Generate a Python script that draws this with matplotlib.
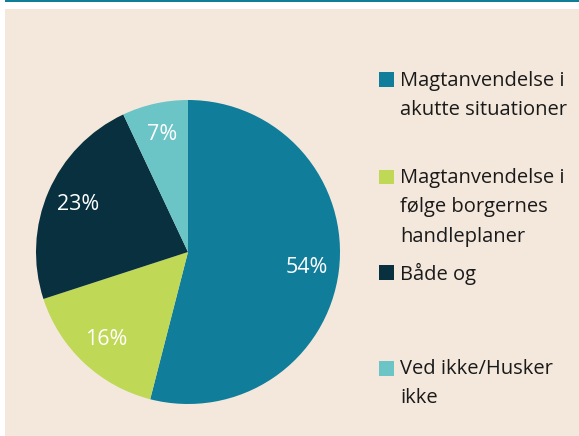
import matplotlib
matplotlib.use("Agg")
import matplotlib.pyplot as plt
from matplotlib.patches import Rectangle

# data
categories = ["Magtanvendelse i\nakutte situationer",
              "Magtanvendelse i\nfølge borgernes\nhandleplaner",
              "Både og",
              "Ved ikke/Husker\nikke"]
values = [54, 16, 23, 7]
colors = ["#107d9a", "#bfd856", "#08303f", "#6bc4c6"]

plt.rcParams['font.family'] = ['Open Sans', 'DejaVu Sans']

fig = plt.figure(figsize=(5.79, 4.36), dpi=100)
fig.patch.set_facecolor("white")

# beige panel + teal line on top
fig.patches.append(Rectangle((5 / 579, 0), 1, (436 - 9) / 436, transform=fig.transFigure,
                             facecolor="#f4e8dc", edgecolor="none", zorder=0))
fig.patches.append(Rectangle((5 / 579, 434 / 436), 1, 2 / 436, transform=fig.transFigure,
                             facecolor="#0e7f99", edgecolor="none", zorder=0))

ax = fig.add_axes([36 / 579, 32 / 436, 304 / 579, 304 / 436])
ax.set_zorder(3)
ax.set_facecolor("none")
wedges, texts, autotexts = ax.pie(values, colors=colors, startangle=90, counterclock=False,
                                  autopct=lambda p: f"{p:.0f}%", pctdistance=0.79,
                                  textprops=dict(color="white", fontsize=15.5))
ax.set_xlim(-1, 1)
ax.set_ylim(-1, 1)
ax.set_aspect("equal")
ax.axis("off")

# legend drawn by hand
legend_y = [80, 177, 272, 368]
for lab, col, y in zip(categories, colors, legend_y):
    fig.patches.append(Rectangle((379 / 579, 1 - (y + 7.5) / 436), 15 / 579, 15 / 436,
                                 transform=fig.transFigure, facecolor=col, edgecolor="none",
                                 zorder=2))
    fig.text(400 / 579, 1 - (y - 9) / 436, lab, fontsize=14.5, color="#1a1a1a",
             va="top", ha="left", linespacing=1.62)

fig.savefig("out.png", dpi=100)
